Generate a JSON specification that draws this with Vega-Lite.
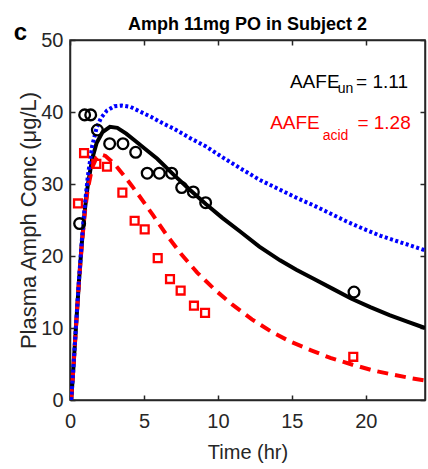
{
  "$schema": "https://vega.github.io/schema/vega-lite/v6.json",
  "width": 355,
  "height": 360,
  "autosize": {"type": "none"},
  "padding": {"left": 70, "top": 40, "right": 3, "bottom": 69},
  "background": "white",
  "config": {
    "view": {"stroke": "#262626", "strokeWidth": 1.5},
    "font": "Liberation Sans",
    "axis": {
      "domainColor": "#262626", "domainWidth": 1.5,
      "tickColor": "#262626", "tickWidth": 1.5, "tickSize": -5,
      "labelColor": "#262626", "labelFont": "Liberation Sans", "labelFontSize": 20,
      "titleColor": "#262626", "titleFont": "Liberation Sans", "titleFontSize": 20, "titleFontWeight": "normal",
      "grid": false, "labelFlush": false, "labelOverlap": false
    }
  },
  "title": {
    "text": "Amph 11mg PO in Subject 2",
    "font": "Liberation Sans", "fontSize": 18, "fontWeight": "bold", "color": "#000000",
    "anchor": "middle", "baseline": "alphabetic", "offset": 10, "dy": 37
  },
  "datasets": {
    "curves": [
      {"t": 0.08, "c": 0, "series": "un"}, {"t": 0.2, "c": 3.5, "series": "un"}, {"t": 0.4, "c": 10, "series": "un"},
      {"t": 0.6, "c": 16.3, "series": "un"}, {"t": 0.8, "c": 21.8, "series": "un"}, {"t": 1.0, "c": 26.3, "series": "un"},
      {"t": 1.2, "c": 29.8, "series": "un"}, {"t": 1.5, "c": 33.5, "series": "un"}, {"t": 1.8, "c": 35.7, "series": "un"},
      {"t": 2.2, "c": 37.2, "series": "un"}, {"t": 2.7, "c": 37.95, "series": "un"}, {"t": 3.2, "c": 37.8, "series": "un"},
      {"t": 3.8, "c": 37.0, "series": "un"}, {"t": 4.4, "c": 36.0, "series": "un"}, {"t": 5.0, "c": 35.0, "series": "un"},
      {"t": 5.9, "c": 33.5, "series": "un"}, {"t": 7.0, "c": 31.3, "series": "un"}, {"t": 8.1, "c": 29.2, "series": "un"},
      {"t": 9.2, "c": 27.2, "series": "un"}, {"t": 10.3, "c": 25.3, "series": "un"}, {"t": 11.5, "c": 23.4, "series": "un"},
      {"t": 12.8, "c": 21.3, "series": "un"}, {"t": 14.2, "c": 19.4, "series": "un"}, {"t": 15.3, "c": 18.1, "series": "un"},
      {"t": 16.5, "c": 16.8, "series": "un"}, {"t": 17.8, "c": 15.4, "series": "un"}, {"t": 19.0, "c": 14.1, "series": "un"},
      {"t": 20.3, "c": 12.9, "series": "un"}, {"t": 21.6, "c": 11.8, "series": "un"}, {"t": 22.8, "c": 10.9, "series": "un"},
      {"t": 24, "c": 10.0, "series": "un"},
      {"t": 0.08, "c": 0, "series": "acid"}, {"t": 0.2, "c": 3.5, "series": "acid"}, {"t": 0.4, "c": 10, "series": "acid"},
      {"t": 0.6, "c": 16.2, "series": "acid"}, {"t": 0.8, "c": 21.6, "series": "acid"}, {"t": 1.0, "c": 26, "series": "acid"},
      {"t": 1.2, "c": 29.3, "series": "acid"}, {"t": 1.5, "c": 32.3, "series": "acid"}, {"t": 1.8, "c": 33.7, "series": "acid"},
      {"t": 2.1, "c": 34.1, "series": "acid"}, {"t": 2.4, "c": 33.9, "series": "acid"}, {"t": 3.0, "c": 32.8, "series": "acid"},
      {"t": 3.6, "c": 31.3, "series": "acid"}, {"t": 4.2, "c": 29.7, "series": "acid"}, {"t": 4.7, "c": 28.3, "series": "acid"},
      {"t": 5.6, "c": 25.7, "series": "acid"}, {"t": 6.5, "c": 23.0, "series": "acid"}, {"t": 7.5, "c": 20.3, "series": "acid"},
      {"t": 8.6, "c": 17.7, "series": "acid"}, {"t": 9.8, "c": 15.3, "series": "acid"}, {"t": 11.0, "c": 13.2, "series": "acid"},
      {"t": 12.3, "c": 11.2, "series": "acid"}, {"t": 13.6, "c": 9.5, "series": "acid"}, {"t": 14.9, "c": 8.1, "series": "acid"},
      {"t": 16.3, "c": 6.9, "series": "acid"}, {"t": 17.6, "c": 5.85, "series": "acid"}, {"t": 19.1, "c": 4.9, "series": "acid"},
      {"t": 20.5, "c": 4.1, "series": "acid"}, {"t": 21.9, "c": 3.5, "series": "acid"}, {"t": 23.0, "c": 3.05, "series": "acid"},
      {"t": 24, "c": 2.7, "series": "acid"},
      {"t": 0.08, "c": 0, "series": "base"}, {"t": 0.2, "c": 3.6, "series": "base"}, {"t": 0.4, "c": 10.2, "series": "base"},
      {"t": 0.6, "c": 16.5, "series": "base"}, {"t": 0.8, "c": 22.2, "series": "base"}, {"t": 1.0, "c": 27, "series": "base"},
      {"t": 1.2, "c": 31, "series": "base"}, {"t": 1.5, "c": 35.3, "series": "base"}, {"t": 1.8, "c": 37.8, "series": "base"},
      {"t": 2.1, "c": 39.2, "series": "base"}, {"t": 2.5, "c": 40.2, "series": "base"}, {"t": 3.0, "c": 40.8, "series": "base"},
      {"t": 3.5, "c": 40.9, "series": "base"}, {"t": 4.1, "c": 40.7, "series": "base"}, {"t": 4.7, "c": 40.1, "series": "base"},
      {"t": 5.5, "c": 39.3, "series": "base"}, {"t": 6.3, "c": 38.4, "series": "base"}, {"t": 7.0, "c": 37.7, "series": "base"},
      {"t": 8.1, "c": 36.4, "series": "base"}, {"t": 9.2, "c": 35.2, "series": "base"}, {"t": 10.4, "c": 33.6, "series": "base"},
      {"t": 11.5, "c": 32.2, "series": "base"}, {"t": 12.8, "c": 30.6, "series": "base"}, {"t": 14.2, "c": 29.2, "series": "base"},
      {"t": 15.3, "c": 28.1, "series": "base"}, {"t": 16.5, "c": 27.0, "series": "base"}, {"t": 17.6, "c": 25.9, "series": "base"},
      {"t": 18.7, "c": 24.8, "series": "base"}, {"t": 19.8, "c": 23.8, "series": "base"}, {"t": 21.0, "c": 22.8, "series": "base"},
      {"t": 22.5, "c": 21.8, "series": "base"}, {"t": 24, "c": 20.8, "series": "base"}
    ],
    "obs": [
      {"t": 0.65, "c": 24.5, "group": "un"}, {"t": 0.99, "c": 39.6, "group": "un"}, {"t": 1.4, "c": 39.6, "group": "un"},
      {"t": 1.85, "c": 37.5, "group": "un"}, {"t": 2.68, "c": 35.6, "group": "un"}, {"t": 3.58, "c": 35.6, "group": "un"},
      {"t": 4.44, "c": 34.4, "group": "un"}, {"t": 5.22, "c": 31.5, "group": "un"}, {"t": 6.04, "c": 31.5, "group": "un"},
      {"t": 6.87, "c": 31.5, "group": "un"}, {"t": 7.55, "c": 29.5, "group": "un"}, {"t": 8.34, "c": 28.9, "group": "un"},
      {"t": 9.17, "c": 27.4, "group": "un"}, {"t": 19.2, "c": 15.0, "group": "un"},
      {"t": 0.54, "c": 27.3, "group": "acid"}, {"t": 0.95, "c": 34.3, "group": "acid"}, {"t": 1.78, "c": 32.8, "group": "acid"},
      {"t": 2.5, "c": 32.4, "group": "acid"}, {"t": 3.54, "c": 28.8, "group": "acid"}, {"t": 4.37, "c": 24.9, "group": "acid"},
      {"t": 5.05, "c": 23.7, "group": "acid"}, {"t": 5.93, "c": 19.7, "group": "acid"}, {"t": 6.76, "c": 16.8, "group": "acid"},
      {"t": 7.48, "c": 15.2, "group": "acid"}, {"t": 8.38, "c": 13.1, "group": "acid"}, {"t": 9.13, "c": 12.1, "group": "acid"},
      {"t": 19.15, "c": 6.0, "group": "acid"}
    ],
    "one": [{}]
  },
  "layer": [
    {
      "layer": [
        {
          "data": {"name": "curves"},
          "transform": [{"filter": "datum.series === 'un'"}],
          "mark": {"type": "line", "color": "#000000", "strokeWidth": 4, "clip": true},
          "encoding": {
            "x": {"field": "t", "type": "quantitative", "scale": {"domain": [0, 24], "nice": false},
                  "axis": {"orient": "bottom", "values": [0, 5, 10, 15, 20], "title": "Time (hr)", "labelPadding": 16, "titlePadding": 11}},
            "y": {"field": "c", "type": "quantitative", "scale": {"domain": [0, 50], "nice": false},
                  "axis": {"orient": "left", "values": [0, 10, 20, 30, 40, 50], "title": "Plasma Amph Conc (μg/L)", "titleFontSize": 22, "labelPadding": 12, "titlePadding": 0}}
          }
        },
        {
          "data": {"name": "curves"},
          "transform": [{"filter": "datum.series === 'acid'"}],
          "mark": {"type": "line", "color": "#ff0000", "strokeWidth": 4, "strokeDash": [11, 7], "clip": true},
          "encoding": {
            "x": {"field": "t", "type": "quantitative"},
            "y": {"field": "c", "type": "quantitative"}
          }
        },
        {
          "data": {"name": "curves"},
          "transform": [{"filter": "datum.series === 'base'"}],
          "mark": {"type": "line", "color": "#0000ff", "strokeWidth": 4, "strokeDash": [3, 2.5], "clip": true},
          "encoding": {
            "x": {"field": "t", "type": "quantitative"},
            "y": {"field": "c", "type": "quantitative"}
          }
        },
        {
          "data": {"name": "obs"},
          "transform": [{"filter": "datum.group === 'un'"}],
          "mark": {"type": "point", "shape": "circle", "filled": false, "color": "#000000", "strokeWidth": 2.3, "size": 115, "opacity": 1},
          "encoding": {
            "x": {"field": "t", "type": "quantitative"},
            "y": {"field": "c", "type": "quantitative"}
          }
        },
        {
          "data": {"name": "obs"},
          "transform": [{"filter": "datum.group === 'acid'"}],
          "mark": {"type": "point", "shape": "square", "filled": false, "color": "#ff0000", "strokeWidth": 2.3, "size": 62, "opacity": 1},
          "encoding": {
            "x": {"field": "t", "type": "quantitative"},
            "y": {"field": "c", "type": "quantitative"}
          }
        },
        {
          "data": {"name": "one"},
          "mark": {"type": "text", "align": "left", "baseline": "alphabetic", "fontSize": 19, "color": "#000000"},
          "encoding": {"x": {"datum": 14.87, "type": "quantitative"}, "y": {"datum": 43.3, "type": "quantitative"}, "text": {"value": "AAFE"}}
        },
        {
          "data": {"name": "one"},
          "mark": {"type": "text", "align": "left", "baseline": "alphabetic", "fontSize": 14, "color": "#000000"},
          "encoding": {"x": {"datum": 18.1, "type": "quantitative"}, "y": {"datum": 42.6, "type": "quantitative"}, "text": {"value": "un"}}
        },
        {
          "data": {"name": "one"},
          "mark": {"type": "text", "align": "left", "baseline": "alphabetic", "fontSize": 19, "color": "#000000"},
          "encoding": {"x": {"datum": 19.34, "type": "quantitative"}, "y": {"datum": 43.3, "type": "quantitative"}, "text": {"value": "= 1.11"}}
        },
        {
          "data": {"name": "one"},
          "mark": {"type": "text", "align": "left", "baseline": "alphabetic", "fontSize": 19, "color": "#ff0000"},
          "encoding": {"x": {"datum": 13.53, "type": "quantitative"}, "y": {"datum": 37.7, "type": "quantitative"}, "text": {"value": "AAFE"}}
        },
        {
          "data": {"name": "one"},
          "mark": {"type": "text", "align": "left", "baseline": "alphabetic", "fontSize": 14, "color": "#ff0000"},
          "encoding": {"x": {"datum": 17.08, "type": "quantitative"}, "y": {"datum": 36.1, "type": "quantitative"}, "text": {"value": "acid"}}
        },
        {
          "data": {"name": "one"},
          "mark": {"type": "text", "align": "left", "baseline": "alphabetic", "fontSize": 19, "color": "#ff0000"},
          "encoding": {"x": {"datum": 19.43, "type": "quantitative"}, "y": {"datum": 37.7, "type": "quantitative"}, "text": {"value": "= 1.28"}}
        },
        {
          "data": {"name": "one"},
          "mark": {"type": "text", "align": "left", "baseline": "alphabetic", "fontSize": 24, "fontWeight": "bold", "color": "#000000"},
          "encoding": {"x": {"datum": -3.8, "type": "quantitative"}, "y": {"datum": 50.0, "type": "quantitative"}, "text": {"value": "c"}}
        }
      ]
    },
    {
      "data": {"name": "obs"},
      "mark": {"type": "point", "opacity": 0},
      "encoding": {
        "x": {"field": "t", "type": "quantitative", "axis": {"orient": "top", "values": [0, 5, 10, 15, 20], "labels": false, "title": null}},
        "y": {"field": "c", "type": "quantitative", "axis": {"orient": "right", "values": [0, 10, 20, 30, 40, 50], "labels": false, "title": null}}
      }
    }
  ],
  "resolve": {"axis": {"x": "independent", "y": "independent"}}
}
